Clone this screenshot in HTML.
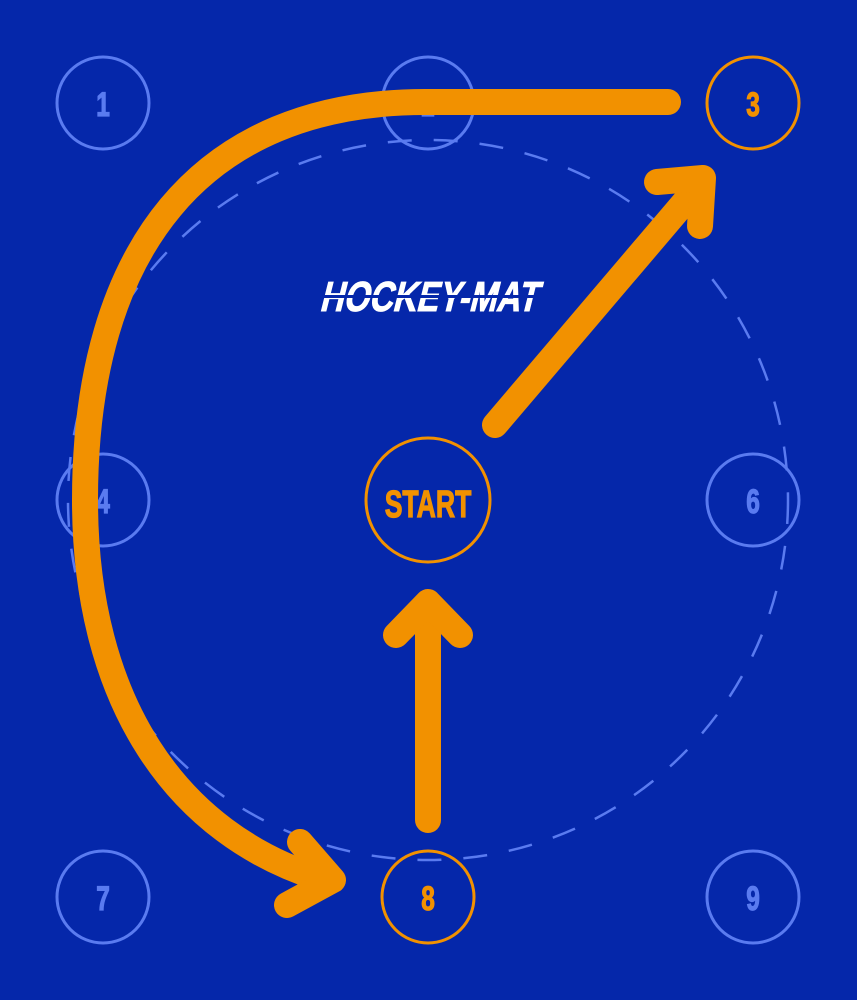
<!DOCTYPE html>
<html><head><meta charset="utf-8"><style>
html,body{margin:0;padding:0;background:#0527AA;}
svg{display:block}
text{font-family:"Liberation Sans",sans-serif;font-weight:bold}
</style></head><body>
<svg width="857" height="1000" viewBox="0 0 857 1000" xmlns="http://www.w3.org/2000/svg">
<rect width="857" height="1000" fill="#0527AA"/>
<circle cx="428" cy="500" r="360" fill="none" stroke="#5A7BF0" stroke-width="2.5" stroke-dasharray="24 22"/>
<g fill="none" stroke="#5A7BF0" stroke-width="3">
<circle cx="103" cy="103" r="46"/><circle cx="428" cy="103" r="46"/>
<circle cx="103" cy="500" r="46"/><circle cx="753" cy="500" r="46"/>
<circle cx="103" cy="897" r="46"/><circle cx="753" cy="897" r="46"/>
</g>
<g fill="none" stroke="#F29100" stroke-width="3">
<circle cx="753" cy="103" r="46"/><circle cx="428" cy="897" r="46"/><circle cx="428" cy="500" r="62"/>
</g>
<g fill="#5A7BF0" stroke="#5A7BF0" stroke-width="1.2" font-size="34" text-anchor="middle">
<text transform="translate(103,116) scale(0.72,1)">1</text>
<text transform="translate(428,116) scale(0.72,1)">2</text>
<text transform="translate(103,513) scale(0.72,1)">4</text>
<text transform="translate(753,513) scale(0.72,1)">6</text>
<text transform="translate(103,910) scale(0.72,1)">7</text>
<text transform="translate(753,910) scale(0.72,1)">9</text>
</g>
<g fill="#F29100" stroke="#F29100" stroke-width="1.2" font-size="34" text-anchor="middle">
<text transform="translate(753,116) scale(0.72,1)">3</text>
<text transform="translate(428,910) scale(0.72,1)">8</text>
<text transform="translate(428,517) scale(0.7,1)" font-size="38">START</text>
</g>
<g fill="none" stroke="#F29100" stroke-width="26" stroke-linecap="round" stroke-linejoin="round">
<path d="M668,102 L425,102 C200,102 85,250 85,500 C85,700 175,835 325,880"/>
<path d="M300,842 L333,880 L287,905"/>
<path d="M495,425 L700,184"/>
<path d="M657,182 L703,178 L700,226"/>
<path d="M428,820 L428,603"/>
<path d="M396,635 L428,602 L460,635"/>
</g>
<text transform="translate(428,311) skewX(-14) scale(0.78,1)" font-size="42" fill="#FFFFFF" stroke="#FFFFFF" stroke-width="1" text-anchor="middle">HOCKEY-MAT</text>
<rect x="315" y="295" width="230" height="3" fill="#0527AA"/>
</svg>
</body></html>
